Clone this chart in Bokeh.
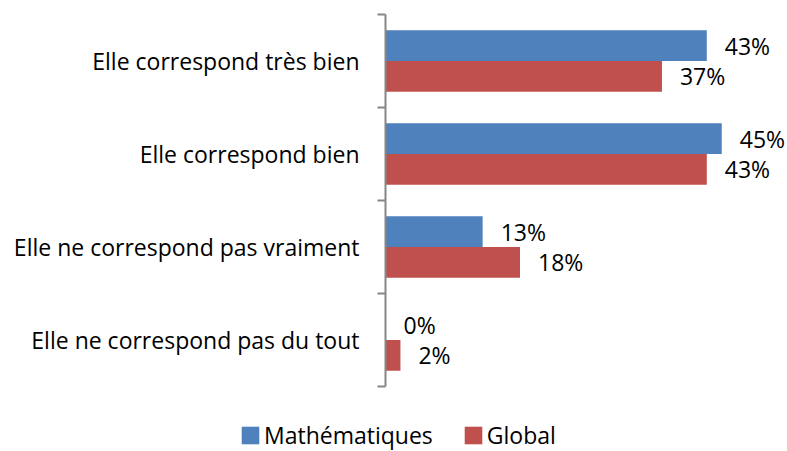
from bokeh.plotting import figure
from bokeh.models import Range1d, FixedTicker, Legend, LegendItem, ColumnDataSource
from bokeh.core.properties import value
from bokeh.embed import file_html
from bokeh.resources import INLINE

categories = ["Elle correspond très bien", "Elle correspond bien",
              "Elle ne correspond pas vraiment", "Elle ne correspond pas du tout"]
maths = [43, 45, 13, 0]
global_vals = [37, 43, 18, 2]
series_names = ["Mathématiques", "Global"]
colors = ["#4F81BD", "#C0504D"]

FONT = "Open Sans"
FS = "23px"
AXIS_GRAY = "#868686"

n = len(categories)
centers = [n - i - 0.5 for i in range(n)]
bar_h = 0.33
off = 0.165

p = figure(width=787, height=400, output_backend="svg", toolbar_location=None,
           x_range=Range1d(0, 53.8), y_range=Range1d(0, n),
           min_border_left=385, min_border_right=0, min_border_top=14, min_border_bottom=14)
p.outline_line_color = None
p.xgrid.visible = False
p.ygrid.visible = False
p.xaxis.visible = False

sources = []
for vals, dy, col in [(maths, off, colors[0]), (global_vals, -off, colors[1])]:
    ys = [c + dy for c in centers]
    src = ColumnDataSource(dict(y=ys, right=vals, lab=[f"{v}%" for v in vals]))
    sources.append(src)
    p.hbar(y="y", left=0, right="right", height=bar_h, source=src,
           fill_color=col, line_color=None)
    p.text(x="right", y="y", text="lab", source=src, x_offset=18,
           text_align="left", text_baseline="middle",
           text_font=value(FONT), text_font_size=FS, text_color="black")

ax = p.yaxis[0]
ax.ticker = FixedTicker(ticks=centers, minor_ticks=list(range(n + 1)))
ax.major_label_overrides = {c: cat for c, cat in zip(centers, categories)}
ax.major_tick_line_color = None
ax.major_tick_out = 0
ax.major_tick_in = 0
ax.minor_tick_out = 8
ax.minor_tick_in = 0
ax.minor_tick_line_color = AXIS_GRAY
ax.minor_tick_line_width = 2
ax.axis_line_color = AXIS_GRAY
ax.axis_line_width = 2
ax.major_label_standoff = 18
ax.major_label_text_font = FONT
ax.major_label_text_font_size = FS
ax.major_label_text_color = "black"

# legend strip below the chart (its own root, so its frame starts at x=0);
# its ranges keep the helper bars entirely out of view
pl = figure(width=787, height=51, output_backend="svg", toolbar_location=None,
            x_range=Range1d(1000, 1001), y_range=Range1d(1000, 1001),
            min_border=0, min_border_left=0, min_border_right=0,
            min_border_top=0, min_border_bottom=0)
pl.outline_line_color = None
pl.axis.visible = False
pl.grid.visible = False
leg_rs = [pl.hbar(y="y", left=0, right="right", height=bar_h, source=s,
                  fill_color=c, line_color=None)
          for s, c in zip(sources, colors)]
legend = Legend(items=[LegendItem(label=s, renderers=[r]) for s, r in zip(series_names, leg_rs)],
                orientation="horizontal", location=(239, 0),
                glyph_width=22, glyph_height=22, label_standoff=3, spacing=29,
                padding=0, margin=0, border_line_color=None, background_fill_alpha=0,
                label_text_font=FONT, label_text_font_size=FS, label_text_color="black",
                label_height=22)
pl.add_layout(legend)

open("out.html", "w").write(file_html([p, pl], INLINE))
